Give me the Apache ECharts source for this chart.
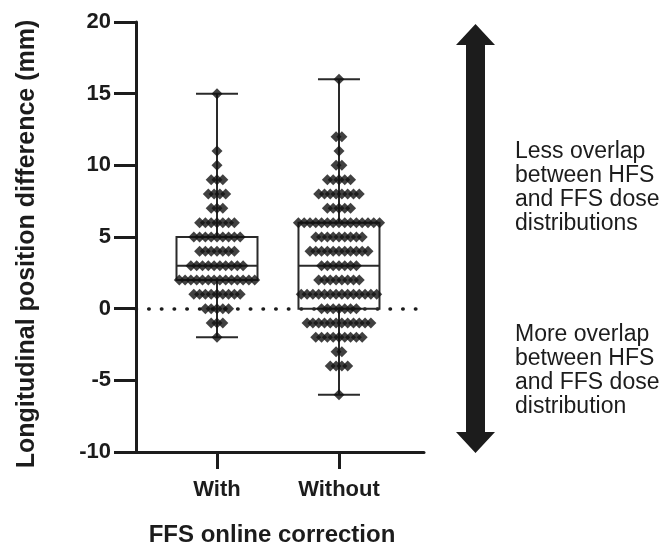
<!DOCTYPE html>
<html><head><meta charset="utf-8">
<script src="https://cdn.jsdelivr.net/npm/echarts@6/dist/echarts.min.js"></script>
<style>html,body{margin:0;padding:0;background:#fff}#c{width:667px;height:547px}</style>
</head><body><div id="c"></div>
<script>
// ---- data ----
const groups = ['With', 'Without'];
const levels        = [16, 15, 12, 11, 10, 9, 8, 7, 6, 5, 4, 3, 2, 1, 0, -1, -2, -3, -4, -5, -6];
const withCounts    = [ 0,  1,  0,  1,  1, 3, 4, 3, 7, 9, 7, 10, 14, 9, 5, 3, 1, 0, 0, 0, 0];
const withoutCounts = [ 1,  0,  2,  1,  2, 5, 8, 5, 15, 9, 11, 7, 8, 14, 7, 12, 9, 2, 4, 0, 1];
// [min, Q1, median, Q3, max]
const withBox    = [-2, 2, 3, 5, 15];
const withoutBox = [-6, 0, 3, 6, 16];
const yMin = -10, yMax = 20, yStep = 5;
const yTitle = 'Longitudinal position difference (mm)';
const xTitle = 'FFS online correction';
const upperNote = ['Less overlap', 'between HFS', 'and FFS dose', 'distributions'];
const lowerNote = ['More overlap', 'between HFS', 'and FFS dose', 'distribution'];

const FONT = '"Liberation Sans", Arial, Helvetica, sans-serif';
const INK = '#1c1c1c';
const DOT_STEP = 5.8;

function swarm(counts, gi) {
  const out = [];
  levels.forEach((v, k) => {
    const n = counts[k];
    for (let i = 0; i < n; i++) {
      out.push({ value: [gi + 1, v], symbolOffset: [(i - (n - 1) / 2) * DOT_STEP, 0] });
    }
  });
  return out;
}
const points = swarm(withCounts, 0).concat(swarm(withoutCounts, 1));

const chart = echarts.init(document.getElementById('c'), null, { renderer: 'canvas' });
chart.setOption({
  animation: false,
  backgroundColor: '#fff',
  grid: { left: 136, right: 243, top: 22, bottom: 95, containLabel: false, outerBoundsMode: 'none' },
  xAxis: {
    type: 'value', min: 0.336, max: 2.697,
    name: xTitle, nameLocation: 'middle', nameGap: 71,
    nameTextStyle: { fontFamily: FONT, fontWeight: 'bold', fontSize: 24, color: INK, padding: [0, 16, 0, 0] },
    axisLine: { show: true, onZero: false, lineStyle: { color: INK, width: 3 } },
    axisTick: { show: true, customValues: [1, 2], length: 17, lineStyle: { color: INK, width: 3 } },
    axisLabel: { customValues: [1, 2], formatter: v => groups[Math.round(v) - 1], fontFamily: FONT, fontWeight: 'bold', fontSize: 22, color: INK, margin: 27 },
    splitLine: { show: false }
  },
  yAxis: {
    type: 'value', min: yMin, max: yMax, interval: yStep,
    name: yTitle, nameLocation: 'middle', nameGap: 96,
    nameTextStyle: { fontFamily: FONT, fontWeight: 'bold', fontSize: 25, color: INK, padding: [0, 14, 0, 0] },
    axisLine: { show: true, onZero: false, lineStyle: { color: INK, width: 3 } },
    axisTick: { show: true, length: 22, lineStyle: { color: INK, width: 3 } },
    axisLabel: { fontFamily: FONT, fontWeight: 'bold', fontSize: 22, color: INK, margin: 25 },
    splitLine: { show: false }
  },
  series: [
    {
      type: 'custom',
      z: 2,
      data: [[1].concat(withBox), [2].concat(withoutBox)],
      encode: { x: 0, y: [1, 2, 3, 4, 5] },
      renderItem(params, api) {
        const x = api.value(0);
        const p = i => api.coord([x, api.value(i)]);
        const mn = p(1), q1 = p(2), md = p(3), q3 = p(4), mx = p(5);
        const cx = mn[0], hw = 40.5, cw = 21;
        const st = { stroke: '#2a2a2a', lineWidth: 2, fill: 'none' };
        return {
          type: 'group', children: [
            { type: 'line', shape: { x1: cx, y1: mx[1], x2: cx, y2: q3[1] }, style: st },
            { type: 'line', shape: { x1: cx, y1: q1[1], x2: cx, y2: mn[1] }, style: st },
            { type: 'line', shape: { x1: cx - cw, y1: mx[1], x2: cx + cw, y2: mx[1] }, style: st },
            { type: 'line', shape: { x1: cx - cw, y1: mn[1], x2: cx + cw, y2: mn[1] }, style: st },
            { type: 'rect', shape: { x: cx - hw, y: q3[1], width: 2 * hw, height: q1[1] - q3[1] }, style: st },
            { type: 'line', shape: { x1: cx - hw, y1: md[1], x2: cx + hw, y2: md[1] }, style: st }
          ]
        };
      },
      markLine: {
        silent: true, symbol: 'none', label: { show: false }, z: 1,
        lineStyle: { color: INK, width: 3.5, type: [0.5, 12.2], cap: 'round' },
        data: [{ yAxis: 0 }]
      }
    },
    {
      type: 'scatter',
      z: 3,
      symbol: 'diamond',
      symbolSize: [11, 11],
      itemStyle: { color: '#111' },
      data: points
    }
  ],
  graphic: [
    {
      type: 'polygon',
      shape: { points: [[475.5, 24], [495, 45], [485, 45], [485, 432], [495, 432], [475.5, 453], [456, 432], [466, 432], [466, 45], [456, 45]] },
      style: { fill: INK }
    },
    {
      type: 'text', x: 515, y: 140,
      style: { text: upperNote.join('\n'), font: '23px ' + FONT, fill: INK, lineHeight: 24, textVerticalAlign: 'top' }
    },
    {
      type: 'text', x: 515, y: 323,
      style: { text: lowerNote.join('\n'), font: '23px ' + FONT, fill: INK, lineHeight: 24, textVerticalAlign: 'top' }
    }
  ]
});
</script></body></html>
